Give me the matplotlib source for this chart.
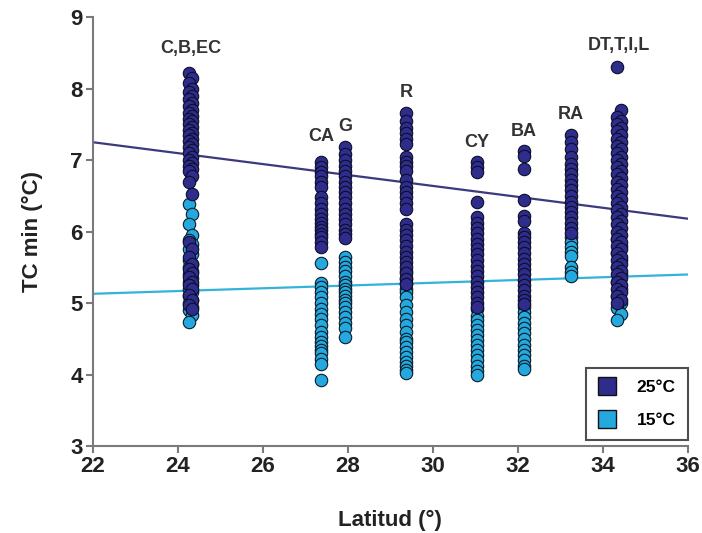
import matplotlib
matplotlib.use("Agg")
import matplotlib.pyplot as plt
from matplotlib.lines import Line2D

plt.rcParams['font.family'] = ['Liberation Sans', 'DejaVu Sans']

# ---------------- data ----------------
sites = ["C,B,EC", "CA", "G", "R", "CY", "BA", "RA", "DT,T,I,L"]
site_lat = [24.3, 27.37, 27.93, 29.38, 31.04, 32.14, 33.24, 34.38]
label_y = [8.56, 7.33, 7.47, 7.95, 7.24, 7.4, 7.64, 8.6]
# half-width spread of the multi-site columns (degrees)
site_spread = [0.035, 0, 0, 0, 0, 0, 0, 0.04]

t25 = {
    "C,B,EC": [8.22, 8.15, 8.08, 8.0, 7.95, 7.9, 7.85, 7.8, 7.75, 7.7, 7.66, 7.62, 7.58,
               7.55, 7.5, 7.46, 7.42, 7.38, 7.35, 7.3, 7.27, 7.22, 7.18, 7.14, 7.1, 7.05,
               7.0, 6.96, 6.92, 6.88, 6.85, 6.78, 6.7, 6.52, 5.85, 5.75, 5.65, 5.55, 5.48,
               5.42, 5.36, 5.3, 5.25, 5.2, 5.12, 5.05, 4.98, 4.92],
    "CA": [6.97, 6.9, 6.84, 6.78, 6.7, 6.62, 6.48, 6.4, 6.32, 6.25, 6.18, 6.12, 6.07,
           6.02, 5.97, 5.92, 5.86, 5.78],
    "G": [7.18, 7.08, 7.0, 6.92, 6.85, 6.78, 6.7, 6.62, 6.55, 6.48, 6.4, 6.32, 6.25,
          6.18, 6.1, 6.02, 5.96, 5.91],
    "R": [7.66, 7.55, 7.45, 7.38, 7.3, 7.22, 7.05, 6.98, 6.92, 6.85, 6.72, 6.62, 6.55,
          6.48, 6.4, 6.32, 6.1, 6.02, 5.95, 5.88, 5.8, 5.72, 5.65, 5.58, 5.5, 5.42, 5.34,
          5.27],
    "CY": [6.97, 6.9, 6.84, 6.42, 6.2, 6.12, 6.05, 5.98, 5.9, 5.82, 5.75, 5.68, 5.6,
           5.52, 5.45, 5.38, 5.3, 5.22, 5.15, 5.08, 5.0, 4.95],
    "BA": [7.12, 7.06, 6.88, 6.44, 6.22, 6.15, 5.98, 5.92, 5.85, 5.78, 5.7, 5.62, 5.55,
           5.48, 5.4, 5.32, 5.25, 5.18, 5.1, 5.04, 4.99],
    "RA": [7.35, 7.25, 7.15, 7.05, 6.95, 6.88, 6.8, 6.72, 6.65, 6.58, 6.5, 6.42, 6.35,
           6.28, 6.2, 6.12, 6.05, 5.98],
    "DT,T,I,L": [8.3, 7.7, 7.6, 7.55, 7.5, 7.45, 7.4, 7.35, 7.3, 7.25, 7.2, 7.15, 7.1,
                 7.05, 7.0, 6.95, 6.9, 6.85, 6.8, 6.75, 6.7, 6.65, 6.6, 6.55, 6.5, 6.45,
                 6.4, 6.35, 6.3, 6.25, 6.2, 6.15, 6.1, 6.05, 6.0, 5.95, 5.9, 5.85, 5.8,
                 5.75, 5.7, 5.65, 5.6, 5.55, 5.5, 5.45, 5.4, 5.35, 5.3, 5.25, 5.2, 5.15,
                 5.1, 5.05, 5.0],
}

t15 = {
    "C,B,EC": [6.38, 6.25, 6.1, 5.95, 5.88, 5.82, 5.75, 5.68, 5.6, 5.55, 5.5, 5.45, 5.4,
               5.35, 5.3, 5.25, 5.2, 5.15, 5.1, 5.05, 5.0, 4.95, 4.9, 4.84, 4.73],
    "CA": [5.56, 5.28, 5.22, 5.15, 5.08, 5.0, 4.92, 4.85, 4.78, 4.7, 4.6, 4.52, 4.45,
           4.4, 4.35, 4.3, 4.22, 4.15, 3.92],
    "G": [5.64, 5.58, 5.5, 5.45, 5.38, 5.3, 5.25, 5.2, 5.15, 5.1, 5.05, 5.0, 4.95, 4.88,
          4.8, 4.72, 4.65, 4.52],
    "R": [5.45, 5.35, 5.28, 5.2, 5.15, 5.08, 4.98, 4.88, 4.78, 4.7, 4.6, 4.5, 4.45,
          4.38, 4.32, 4.25, 4.18, 4.12, 4.06, 4.02],
    "CY": [4.92, 4.82, 4.76, 4.7, 4.62, 4.55, 4.48, 4.42, 4.35, 4.28, 4.2, 4.12, 4.05,
           4.0],
    "BA": [4.95, 4.88, 4.8, 4.72, 4.65, 4.58, 4.5, 4.42, 4.35, 4.28, 4.2, 4.12, 4.08],
    "RA": [5.92, 5.85, 5.78, 5.72, 5.66, 5.5, 5.44, 5.38],
    "DT,T,I,L": [5.9, 5.8, 5.7, 5.6, 5.5, 5.4, 5.3, 5.2, 5.1, 5.0, 4.93, 4.85, 4.76],
}

# regression lines
line_x = [22, 36]
line_25 = [7.25, 6.18]
line_15 = [5.13, 5.40]

# ---------------- style ----------------
c25 = "#2e2d8c"
c15 = "#23a9dd"
lc25 = "#3b3a7e"
lc15 = "#34b3d8"
spine_c = "#7a7a7a"


def xs(lat, spread, n):
    # alternate points across the width of multi-site columns
    return [lat + (spread if i % 2 else -spread) for i in range(n)]


fig = plt.figure(figsize=(7.02, 5.33), dpi=100)
ax = fig.add_axes([0.132, 0.163, 0.848, 0.805])

ax.plot(line_x, line_15, color=lc15, lw=1.6, zorder=2)
ax.plot(line_x, line_25, color=lc25, lw=1.6, zorder=2)

for site, lat, sp in zip(sites, site_lat, site_spread):
    v = t15[site]
    ax.scatter(xs(lat, sp, len(v)), v, s=80, color=c15, edgecolor="#0d1b2a", lw=0.8,
               zorder=3)
for site, lat, sp in zip(sites, site_lat, site_spread):
    v = t25[site]
    ax.scatter(xs(lat, sp, len(v)), v, s=80, color=c25, edgecolor="#0d0d2a", lw=0.8,
               zorder=4)

for site, lat, ly in zip(sites, site_lat, label_y):
    ax.text(lat, ly, site, ha="center", va="center", fontsize=13, fontweight="bold",
            color="#333333", zorder=5)

ax.set_xlim(22, 36)
ax.set_ylim(3, 9)
ax.set_xticks(range(22, 37, 2))
ax.set_yticks(range(3, 10))
for s in ["top", "right"]:
    ax.spines[s].set_visible(False)
for s in ["left", "bottom"]:
    ax.spines[s].set_color(spine_c)
    ax.spines[s].set_linewidth(1.5)
ax.tick_params(axis="both", colors=spine_c, width=1.5, length=5, labelsize=16,
               labelcolor="#222222")
ax.tick_params(axis="x", pad=2)
ax.tick_params(axis="y", pad=2)
for lab in ax.get_xticklabels() + ax.get_yticklabels():
    lab.set_fontweight("bold")

ax.set_xlabel("Latitud (°)", fontsize=16, fontweight="bold", color="#222222", labelpad=24)
ax.set_ylabel("TC min (°C)", fontsize=16, fontweight="bold", color="#222222", labelpad=20)

handles = [
    Line2D([], [], marker="s", ls="none", markersize=13, markerfacecolor=c25,
           markeredgecolor="#111111", markeredgewidth=1.0, label="25°C"),
    Line2D([], [], marker="s", ls="none", markersize=13, markerfacecolor=c15,
           markeredgecolor="#111111", markeredgewidth=1.0, label="15°C"),
]
leg = ax.legend(handles=handles, loc="lower right", bbox_to_anchor=(1.0, 0.014),
                frameon=True, fancybox=False, borderaxespad=0, prop={"weight": "bold",
                "size": 12.5}, handletextpad=1.2, labelspacing=1.0, borderpad=0.7,
                handlelength=1.0)
leg.get_frame().set_edgecolor("#222222")
leg.get_frame().set_linewidth(1.5)

fig.savefig("out.png", dpi=100)
